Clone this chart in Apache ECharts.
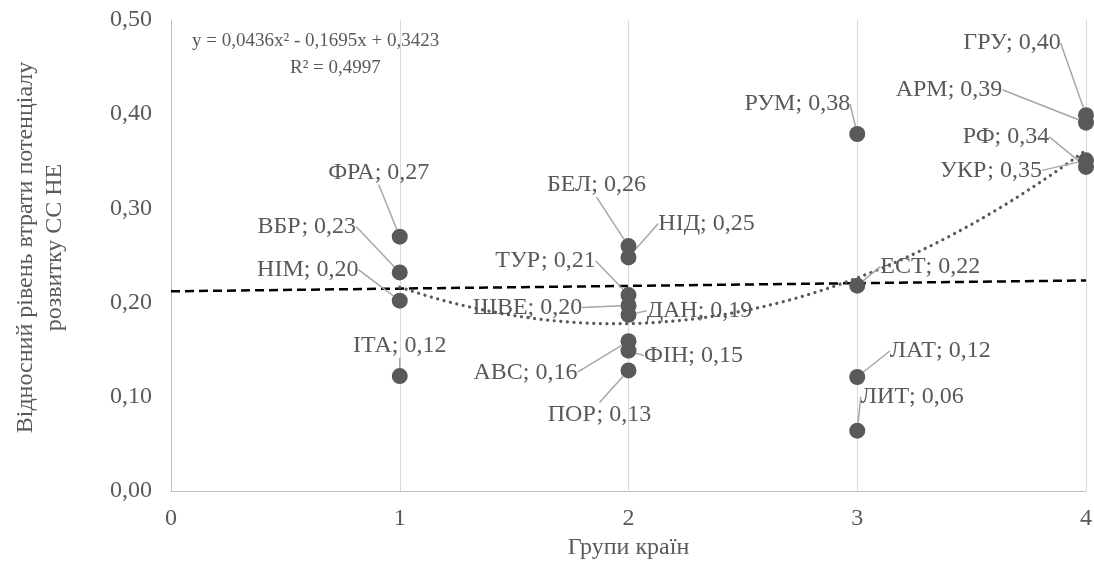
<!DOCTYPE html>
<html><head><meta charset="utf-8">
<script src="https://cdn.jsdelivr.net/npm/echarts@6/dist/echarts.min.js"></script>
<style>html,body{margin:0;padding:0;background:#fff}#c{width:1094px;height:562px}</style>
</head><body><div id="c"></div>
<script>
const groups = [1,1,1,1, 2,2,2,2,2,2,2,2, 3,3,3,3, 4,4,4,4];
const names = ['ФРА','ВБР','НІМ','ІТА','БЕЛ','НІД','ТУР','ШВЕ','ДАН','АВС','ФІН','ПОР','РУМ','ЕСТ','ЛАТ','ЛИТ','ГРУ','АРМ','РФ','УКР'];
const values = [0.270,0.232,0.202,0.122, 0.260,0.248,0.208,0.197,0.187,0.159,0.149,0.128, 0.379,0.218,0.121,0.064, 0.399,0.391,0.344,0.351];
const xTicks = [0,1,2,3,4];
const yTicks = [0,0.1,0.2,0.3,0.4,0.5];
const linearTrend = [[0,0.212],[4,0.2235]];
const polyCoef = [0.0436,-0.1695,0.3423]; // y = a x^2 + b x + c (shown on chart)
const polyRange = [1,4];
const eqText = 'y = 0,0436x² - 0,1695x + 0,3423';
const r2Text = 'R² = 0,4997';

// label offsets (label centre relative to point centre), px
const labelOffsets = {
 'ФРА':[-21,-64],'ВБР':[-93,-46],'НІМ':[-92,-31],'ІТА':[0,-30],
 'БЕЛ':[-32,-61],'НІД':[78,-34],'ТУР':[-83,-34],'ШВЕ':[-101,2],'ДАН':[71,-4],
 'АВС':[-103,31],'ФІН':[65,5],'ПОР':[-29,44],
 'РУМ':[-60,-30],'ЕСТ':[73,-19],'ЛАТ':[83,-26],'ЛИТ':[55,-34],
 'ГРУ':[-74,-72],'АРМ':[-137,-33],'РФ':[-80,-30],'УКР':[-95,10]
};

const fmt = v => v.toFixed(2).replace('.', ',');
const pts = groups.map((g,i)=>({name:names[i], value:[g, values[i]]}));
const curve = [];
for (let k=0;k<=60;k++){ const x = polyRange[0] + (polyRange[1]-polyRange[0])*k/60; curve.push([x, polyCoef[0]*x*x + polyCoef[1]*x + polyCoef[2]]); }

const FONT = 'Liberation Serif';
const TXT = '#595959';
const FS = 24;
const chart = echarts.init(document.getElementById('c'), null, {renderer:'canvas'});
chart.setOption({
  animation:false,
  textStyle:{fontFamily:FONT},
  grid:{left:171,right:8,top:20,bottom:71,containLabel:false,outerBoundsMode:'none'},
  xAxis:{type:'value',min:xTicks[0],max:xTicks[xTicks.length-1],interval:1,
    axisLine:{show:true,lineStyle:{color:'#bfbfbf',width:1}},axisTick:{show:false},
    axisLabel:{color:TXT,fontFamily:FONT,fontSize:FS,margin:16,formatter:v=>String(v)},
    splitLine:{show:true,lineStyle:{color:'#d9d9d9',width:1}},
    name:'Групи країн',nameLocation:'middle',nameGap:42,
    nameTextStyle:{color:TXT,fontFamily:FONT,fontSize:FS}},
  yAxis:{type:'value',min:yTicks[0],max:yTicks[yTicks.length-1],interval:0.1,
    axisLine:{show:true,lineStyle:{color:'#bfbfbf',width:1}},axisTick:{show:false},
    axisLabel:{color:TXT,fontFamily:FONT,fontSize:FS,margin:19,formatter:v=>fmt(v)},
    splitLine:{show:false},
    name:'Відносний рівень втрати потенціалу\nрозвитку СС НЕ',nameLocation:'middle',nameGap:102,
    nameTextStyle:{color:TXT,fontFamily:FONT,fontSize:FS,lineHeight:29,align:'center',padding:[0,0,0,16]}},
  graphic:[
    {type:'text',left:192,top:32,style:{text:eqText,fill:TXT,font:'19px "Liberation Serif"'}},
    {type:'text',left:290,top:59,style:{text:r2Text,fill:TXT,font:'19px "Liberation Serif"'}}
  ],
  series:[
    {type:'line',data:linearTrend,symbol:'none',silent:true,z:3,
     lineStyle:{color:'#000',width:2.5,type:[9,5]}},
    {type:'line',data:curve,symbol:'none',silent:true,z:3,smooth:false,
     lineStyle:{color:'#595959',width:3.2,type:[0.1,6.5],cap:'round'}},
    {type:'scatter',data:pts,symbolSize:16,z:4,
     itemStyle:{color:'#595959',opacity:1},
     label:{show:true,color:TXT,fontFamily:FONT,fontSize:FS,
       formatter:p=>p.name+'; '+fmt(p.value[1])},
     labelLine:{show:true,lineStyle:{color:'#a6a6a6',width:1.5}},
     labelLayout:function(p){
       const o = labelOffsets[names[p.dataIndex]]||[0,-20];
       return {x:p.rect.x+p.rect.width/2+o[0], y:p.rect.y+p.rect.height/2+o[1], align:'center', verticalAlign:'middle'};
     }}
  ]
});
</script></body></html>
